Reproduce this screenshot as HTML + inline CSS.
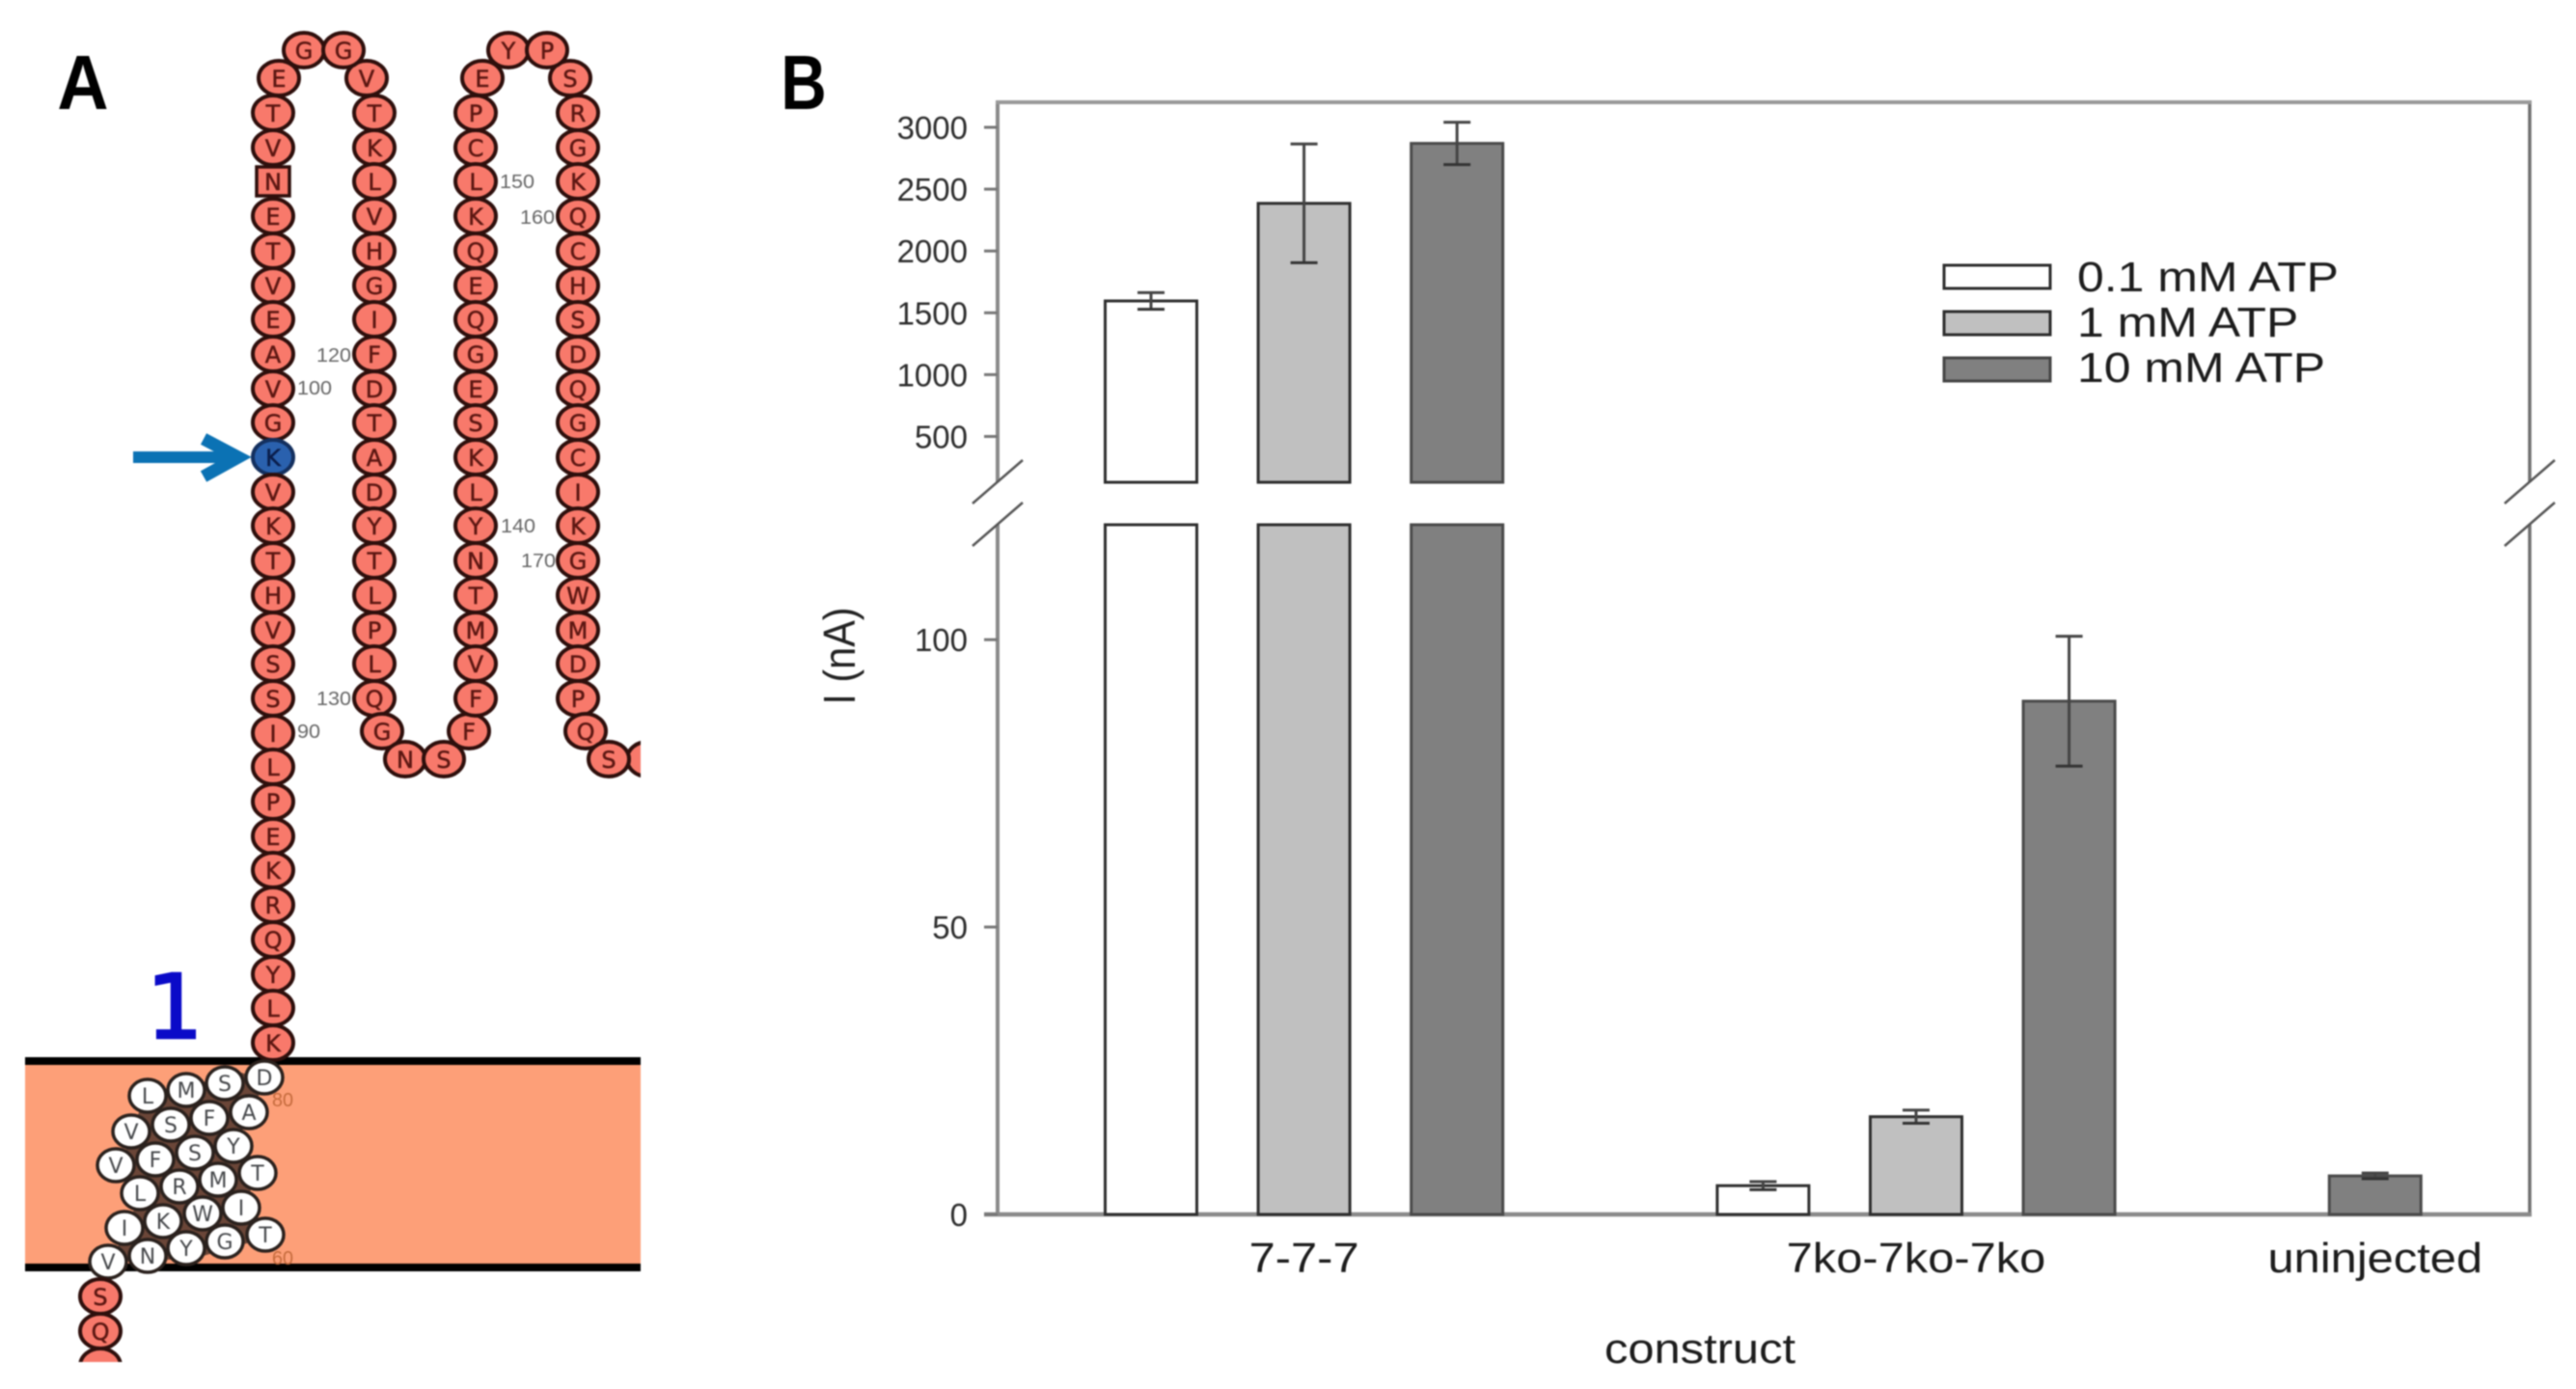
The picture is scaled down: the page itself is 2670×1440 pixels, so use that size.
<!DOCTYPE html>
<html lang="en">
<head>
<meta charset="utf-8">
<title>Panel A topology and Panel B ATP current chart</title>
<style>
html,body{margin:0;padding:0;background:#fff;width:2670px;height:1440px;overflow:hidden}
svg{display:block;filter:blur(0.9px)}
text{font-family:"Liberation Sans",sans-serif}
.r ellipse{rx:21px;ry:18px;fill:#f8796b;stroke:#2e0f0c;stroke-width:4px}
.r text{font-family:"DejaVu Sans",sans-serif;font-size:24px;fill:#5c1712;text-anchor:middle;transform:translateY(9px);stroke:#5c1712;stroke-width:.5px}
.r.k ellipse{fill:#2a61ae;stroke:#14305f}
.r.k text{fill:#0a1d4a;stroke:#0a1d4a}
.w ellipse{rx:19px;ry:17px;fill:#fff;stroke:#2a211d;stroke-width:3.5px}
.w text{font-family:"DejaVu Sans",sans-serif;font-size:22px;fill:#45474a;text-anchor:middle;transform:translateY(8px)}
.n{font-size:20px;fill:#666;text-anchor:middle}
.leg{font-size:44px;fill:#1c1c1c}
</style>
</head>
<body>
<svg id="fig" xmlns="http://www.w3.org/2000/svg" width="2670" height="1440" viewBox="0 0 2670 1440">
<defs>
<clipPath id="clipA"><rect x="0" y="0" width="664" height="1412"/></clipPath>
</defs>
<rect x="0" y="0" width="2670" height="1440" fill="#fff"/>

<g id="panelA" clip-path="url(#clipA)">
<text transform="translate(86,113) scale(0.92,1)" font-size="80" font-weight="bold" text-anchor="middle" fill="#000">A</text>
<text x="181" y="1076" font-size="92" text-anchor="middle" fill="#0a0ac8" stroke="#0a0ac8" stroke-width="2.5" style="font-family:'DejaVu Sans',sans-serif">1</text>

<rect x="26" y="1100" width="638" height="214" fill="#fd9f78"/>
<rect x="26" y="1096" width="638" height="8" fill="#000"/>
<rect x="26" y="1310" width="638" height="8" fill="#000"/>
<polygon points="250,1112 150,1136 125,1208 145,1240 130,1275 115,1308 200,1305 270,1285 255,1250 265,1215 245,1185 262,1150 275,1120" fill="#6b4638"/>

<g fill="none" stroke="#0b72b4" stroke-width="12">
<line x1="138" y1="474" x2="244" y2="474"/>
<polyline points="211,455 247,474 211,494" stroke-width="13"/>
</g>

<g>
<g class="r" transform="translate(283,117)"><ellipse/><text>T</text></g>
<g class="r" transform="translate(283,153)"><ellipse/><text>V</text></g>
<g class="r" transform="translate(283,188)"><rect x="-17" y="-15" width="34" height="30" fill="#f8796b" stroke="#2e0f0c" stroke-width="3.5"/><text>N</text></g>
<g class="r" transform="translate(283,224)"><ellipse/><text>E</text></g>
<g class="r" transform="translate(283,260)"><ellipse/><text>T</text></g>
<g class="r" transform="translate(283,296)"><ellipse/><text>V</text></g>
<g class="r" transform="translate(283,331)"><ellipse/><text>E</text></g>
<g class="r" transform="translate(283,367)"><ellipse/><text>A</text></g>
<g class="r" transform="translate(283,403)"><ellipse/><text>V</text></g>
<g class="r" transform="translate(283,438)"><ellipse/><text>G</text></g>
<g class="r k" transform="translate(283,474)"><ellipse/><text>K</text></g>
<g class="r" transform="translate(283,510)"><ellipse/><text>V</text></g>
<g class="r" transform="translate(283,545)"><ellipse/><text>K</text></g>
<g class="r" transform="translate(283,581)"><ellipse/><text>T</text></g>
<g class="r" transform="translate(283,617)"><ellipse/><text>H</text></g>
<g class="r" transform="translate(283,653)"><ellipse/><text>V</text></g>
<g class="r" transform="translate(283,688)"><ellipse/><text>S</text></g>
<g class="r" transform="translate(283,724)"><ellipse/><text>S</text></g>
<g class="r" transform="translate(283,760)"><ellipse/><text>I</text></g>
<g class="r" transform="translate(283,795)"><ellipse/><text>L</text></g>
<g class="r" transform="translate(283,831)"><ellipse/><text>P</text></g>
<g class="r" transform="translate(283,867)"><ellipse/><text>E</text></g>
<g class="r" transform="translate(283,902)"><ellipse/><text>K</text></g>
<g class="r" transform="translate(283,938)"><ellipse/><text>R</text></g>
<g class="r" transform="translate(283,974)"><ellipse/><text>Q</text></g>
<g class="r" transform="translate(283,1010)"><ellipse/><text>Y</text></g>
<g class="r" transform="translate(283,1045)"><ellipse/><text>L</text></g>
<g class="r" transform="translate(283,1081)"><ellipse/><text>K</text></g>
</g>

<g>
<g class="r" transform="translate(289,81)"><ellipse/><text>E</text></g>
<g class="r" transform="translate(380,81)"><ellipse/><text>V</text></g>
<g class="r" transform="translate(315,52)"><ellipse/><text>G</text></g>
<g class="r" transform="translate(356,52)"><ellipse/><text>G</text></g>
</g>

<g>
<g class="r" transform="translate(388,117)"><ellipse/><text>T</text></g>
<g class="r" transform="translate(388,153)"><ellipse/><text>K</text></g>
<g class="r" transform="translate(388,188)"><ellipse/><text>L</text></g>
<g class="r" transform="translate(388,224)"><ellipse/><text>V</text></g>
<g class="r" transform="translate(388,260)"><ellipse/><text>H</text></g>
<g class="r" transform="translate(388,296)"><ellipse/><text>G</text></g>
<g class="r" transform="translate(388,331)"><ellipse/><text>I</text></g>
<g class="r" transform="translate(388,367)"><ellipse/><text>F</text></g>
<g class="r" transform="translate(388,403)"><ellipse/><text>D</text></g>
<g class="r" transform="translate(388,438)"><ellipse/><text>T</text></g>
<g class="r" transform="translate(388,474)"><ellipse/><text>A</text></g>
<g class="r" transform="translate(388,510)"><ellipse/><text>D</text></g>
<g class="r" transform="translate(388,545)"><ellipse/><text>Y</text></g>
<g class="r" transform="translate(388,581)"><ellipse/><text>T</text></g>
<g class="r" transform="translate(388,617)"><ellipse/><text>L</text></g>
<g class="r" transform="translate(388,653)"><ellipse/><text>P</text></g>
<g class="r" transform="translate(388,688)"><ellipse/><text>L</text></g>
<g class="r" transform="translate(388,724)"><ellipse/><text>Q</text></g>
</g>

<g>
<g class="r" transform="translate(396,758)"><ellipse/><text>G</text></g>
<g class="r" transform="translate(486,758)"><ellipse/><text>F</text></g>
<g class="r" transform="translate(420,787)"><ellipse/><text>N</text></g>
<g class="r" transform="translate(460,787)"><ellipse/><text>S</text></g>
</g>

<g>
<g class="r" transform="translate(493,117)"><ellipse/><text>P</text></g>
<g class="r" transform="translate(493,153)"><ellipse/><text>C</text></g>
<g class="r" transform="translate(493,188)"><ellipse/><text>L</text></g>
<g class="r" transform="translate(493,224)"><ellipse/><text>K</text></g>
<g class="r" transform="translate(493,260)"><ellipse/><text>Q</text></g>
<g class="r" transform="translate(493,296)"><ellipse/><text>E</text></g>
<g class="r" transform="translate(493,331)"><ellipse/><text>Q</text></g>
<g class="r" transform="translate(493,367)"><ellipse/><text>G</text></g>
<g class="r" transform="translate(493,403)"><ellipse/><text>E</text></g>
<g class="r" transform="translate(493,438)"><ellipse/><text>S</text></g>
<g class="r" transform="translate(493,474)"><ellipse/><text>K</text></g>
<g class="r" transform="translate(493,510)"><ellipse/><text>L</text></g>
<g class="r" transform="translate(493,545)"><ellipse/><text>Y</text></g>
<g class="r" transform="translate(493,581)"><ellipse/><text>N</text></g>
<g class="r" transform="translate(493,617)"><ellipse/><text>T</text></g>
<g class="r" transform="translate(493,653)"><ellipse/><text>M</text></g>
<g class="r" transform="translate(493,688)"><ellipse/><text>V</text></g>
<g class="r" transform="translate(493,724)"><ellipse/><text>F</text></g>
</g>

<g>
<g class="r" transform="translate(500,81)"><ellipse/><text>E</text></g>
<g class="r" transform="translate(591,81)"><ellipse/><text>S</text></g>
<g class="r" transform="translate(527,52)"><ellipse/><text>Y</text></g>
<g class="r" transform="translate(567,52)"><ellipse/><text>P</text></g>
</g>

<g>
<g class="r" transform="translate(599,117)"><ellipse/><text>R</text></g>
<g class="r" transform="translate(599,153)"><ellipse/><text>G</text></g>
<g class="r" transform="translate(599,188)"><ellipse/><text>K</text></g>
<g class="r" transform="translate(599,224)"><ellipse/><text>Q</text></g>
<g class="r" transform="translate(599,260)"><ellipse/><text>C</text></g>
<g class="r" transform="translate(599,296)"><ellipse/><text>H</text></g>
<g class="r" transform="translate(599,331)"><ellipse/><text>S</text></g>
<g class="r" transform="translate(599,367)"><ellipse/><text>D</text></g>
<g class="r" transform="translate(599,403)"><ellipse/><text>Q</text></g>
<g class="r" transform="translate(599,438)"><ellipse/><text>G</text></g>
<g class="r" transform="translate(599,474)"><ellipse/><text>C</text></g>
<g class="r" transform="translate(599,510)"><ellipse/><text>I</text></g>
<g class="r" transform="translate(599,545)"><ellipse/><text>K</text></g>
<g class="r" transform="translate(599,581)"><ellipse/><text>G</text></g>
<g class="r" transform="translate(599,617)"><ellipse/><text>W</text></g>
<g class="r" transform="translate(599,653)"><ellipse/><text>M</text></g>
<g class="r" transform="translate(599,688)"><ellipse/><text>D</text></g>
<g class="r" transform="translate(599,724)"><ellipse/><text>P</text></g>
<g class="r" transform="translate(607,758)"><ellipse/><text>Q</text></g>
<g class="r" transform="translate(671,787)"><ellipse/></g>
<g class="r" transform="translate(631,787)"><ellipse/><text>S</text></g>
</g>

<g>
<text class="n" x="536" y="195" textLength="36" lengthAdjust="spacingAndGlyphs">150</text>
<text class="n" x="557" y="232" textLength="36" lengthAdjust="spacingAndGlyphs">160</text>
<text class="n" x="346" y="375" textLength="36" lengthAdjust="spacingAndGlyphs">120</text>
<text class="n" x="326" y="409" textLength="36" lengthAdjust="spacingAndGlyphs">100</text>
<text class="n" x="537" y="552" textLength="36" lengthAdjust="spacingAndGlyphs">140</text>
<text class="n" x="558" y="588" textLength="36" lengthAdjust="spacingAndGlyphs">170</text>
<text class="n" x="346" y="731" textLength="36" lengthAdjust="spacingAndGlyphs">130</text>
<text class="n" x="320" y="765" textLength="24" lengthAdjust="spacingAndGlyphs">90</text>
<text class="n" x="293" y="1147" style="fill:#c46a3c" textLength="22" lengthAdjust="spacingAndGlyphs">80</text>
<text class="n" x="293" y="1311" style="fill:#c46a3c" textLength="22" lengthAdjust="spacingAndGlyphs">60</text>
</g>

<g>
<g class="w" transform="translate(153,1136)"><ellipse/><text>L</text></g>
<g class="w" transform="translate(193,1130)"><ellipse/><text>M</text></g>
<g class="w" transform="translate(233,1123)"><ellipse/><text>S</text></g>
<g class="w" transform="translate(274,1117)"><ellipse/><text>D</text></g>
<g class="w" transform="translate(136,1173)"><ellipse/><text>V</text></g>
<g class="w" transform="translate(177,1166)"><ellipse/><text>S</text></g>
<g class="w" transform="translate(217,1159)"><ellipse/><text>F</text></g>
<g class="w" transform="translate(258,1153)"><ellipse/><text>A</text></g>
<g class="w" transform="translate(120,1208)"><ellipse/><text>V</text></g>
<g class="w" transform="translate(161,1202)"><ellipse/><text>F</text></g>
<g class="w" transform="translate(202,1195)"><ellipse/><text>S</text></g>
<g class="w" transform="translate(242,1188)"><ellipse/><text>Y</text></g>
<g class="w" transform="translate(145,1237)"><ellipse/><text>L</text></g>
<g class="w" transform="translate(186,1230)"><ellipse/><text>R</text></g>
<g class="w" transform="translate(226,1223)"><ellipse/><text>M</text></g>
<g class="w" transform="translate(267,1216)"><ellipse/><text>T</text></g>
<g class="w" transform="translate(129,1273)"><ellipse/><text>I</text></g>
<g class="w" transform="translate(169,1266)"><ellipse/><text>K</text></g>
<g class="w" transform="translate(210,1258)"><ellipse/><text>W</text></g>
<g class="w" transform="translate(250,1252)"><ellipse/><text>I</text></g>
<g class="w" transform="translate(153,1302)"><ellipse/><text>N</text></g>
<g class="w" transform="translate(193,1294)"><ellipse/><text>Y</text></g>
<g class="w" transform="translate(233,1287)"><ellipse/><text>G</text></g>
<g class="w" transform="translate(275,1280)"><ellipse/><text>T</text></g>
<g class="w" transform="translate(112,1308)"><ellipse/><text>V</text></g>
</g>

<g>
<g class="r" transform="translate(104,1416)"><ellipse/></g>
<g class="r" transform="translate(104,1344)"><ellipse/><text>S</text></g>
<g class="r" transform="translate(104,1380)"><ellipse/><text>Q</text></g>
</g>
</g>

<g id="panelB">
<text transform="translate(833,113) scale(0.82,1)" font-size="80" font-weight="bold" text-anchor="middle" fill="#000">B</text>
<g id="axes"></g>
<g id="bars"></g>
<g id="errors"></g>
<g id="ticks"></g>
<text transform="translate(886,680) rotate(-90) scale(0.9,1)" font-size="46" text-anchor="middle" fill="#222">I (nA)</text>
<text transform="translate(1762,1413) scale(1.11,1)" font-size="44" text-anchor="middle" fill="#1c1c1c">construct</text>

<g>
<g>
<rect x="2015" y="275" width="110" height="24" fill="#fff" stroke="#2c2c2c" stroke-width="3"/>
<text class="leg" transform="translate(2153,302) scale(1.135,1)">0.1 mM ATP</text>
</g>
<g>
<rect x="2015" y="323" width="110" height="24" fill="#c0c0c0" stroke="#2c2c2c" stroke-width="3"/>
<text class="leg" transform="translate(2153,349) scale(1.135,1)">1 mM ATP</text>
</g>
<g>
<rect x="2015" y="371" width="110" height="24" fill="#808080" stroke="#444" stroke-width="3"/>
<text class="leg" transform="translate(2153,396) scale(1.135,1)">10 mM ATP</text>
</g>
</g>
</g>
</svg>

<script>
// Chart values (nA). null means no bar in that group.
const categories = ['7-7-7', '7ko-7ko-7ko', 'uninjected'];
const seriesNames = ['0.1 mM ATP', '1 mM ATP', '10 mM ATP'];
const values01 = [1596, 5.0, null];
const values1 = [2385, 17, null];
const values10 = [2870, 89.3, 6.7];
const errors01 = [67, 0.7, null];
const errors1 = [480, 1.15, null];
const errors10 = [171, 11.3, 0.5];
const lowerTicks = [0, 50, 100];
const upperTicks = [500, 1000, 1500, 2000, 2500, 3000];

const seriesValues = [values01, values1, values10];
const seriesErrors = [errors01, errors1, errors10];
const seriesFill = ['#ffffff', '#c0c0c0', '#808080'];
const NS = 'http://www.w3.org/2000/svg';

// Broken axis geometry
const plotLeft = 1034, plotRight = 2622, plotTop = 106;
const lowerBase = 1259, lowerTop = 544, upperBase = 500;
const lowerMax = 120, upperMin = 129;
const yLow = v => lowerBase - (v / lowerMax) * (lowerBase - lowerTop);
const yHigh = v => 132 + (3000 - v) * 0.1282;
const yAny = v => v > lowerMax ? yHigh(v) : yLow(v);

// Band layout: bars sit side by side, with one empty slot between groups.
const firstBar = 1193, step = 158.6, barWidth = 95;

function shape(tag, attrs) {
  const el = document.createElementNS(NS, tag);
  for (const k in attrs) el.setAttribute(k, attrs[k]);
  return el;
}

const axes = document.getElementById('axes');
const barsG = document.getElementById('bars');
const errG = document.getElementById('errors');
const ticksG = document.getElementById('ticks');

// Axes frame
const leftUpper = shape('line', {x1: plotLeft, y1: plotTop, x2: plotLeft, y2: upperBase, stroke: '#8a8a8a', 'stroke-width': 4});


axes.appendChild(leftUpper);
const leftLower = shape('line', {x1: plotLeft, y1: lowerTop, x2: plotLeft, y2: lowerBase, stroke: '#8a8a8a', 'stroke-width': 4});


axes.appendChild(leftLower);
const rightUpper = shape('line', {x1: plotRight, y1: plotTop, x2: plotRight, y2: upperBase, stroke: '#707070', 'stroke-width': 3.5});


axes.appendChild(rightUpper);
const rightLower = shape('line', {x1: plotRight, y1: lowerTop, x2: plotRight, y2: lowerBase, stroke: '#707070', 'stroke-width': 3.5});


axes.appendChild(rightLower);
const topAxis = shape('line', {x1: plotLeft - 2, y1: plotTop, x2: plotRight + 2, y2: plotTop, stroke: '#999', 'stroke-width': 4});


axes.appendChild(topAxis);
const bottomAxis = shape('line', {x1: 1020, y1: lowerBase, x2: plotRight + 2, y2: lowerBase, stroke: '#8a8a8a', 'stroke-width': 4.5});


axes.appendChild(bottomAxis);

// Axis-break marks on both sides
[plotLeft, plotRight].forEach(function (ax) {
  [522, 566].forEach(function (yStart) {
    const mark = shape('line', {x1: ax - 26, y1: yStart, x2: ax + 26, y2: yStart - 45, stroke: '#555', 'stroke-width': 2.5});
    
    
    axes.appendChild(mark);
  });
});

// Y ticks
function drawTick(v, scale) {
  const y = scale(v);
  const tick = shape('line', {x1: 1020, y1: y, x2: plotLeft, y2: y, stroke: '#777', 'stroke-width': 3});
  
  
  ticksG.appendChild(tick);
  const label = shape('text', {x: 1003, y: y + 12, 'text-anchor': 'end', 'font-size': 33, fill: '#2c2c2c'});
  
  
  label.textContent = String(v);
  ticksG.appendChild(label);
}
lowerTicks.forEach(v => drawTick(v, yLow));
upperTicks.forEach(v => drawTick(v, yHigh));

// Bars, error bars, category labels
let cursor = 0;
categories.forEach(function (cat, c) {
  const present = seriesValues.map((vals, s) => vals[c] === null ? -1 : s).filter(s => s >= 0);
  const startSlot = cursor;
  present.forEach(function (s, i) {
    const v = seriesValues[s][c];
    const err = seriesErrors[s][c];
    const cx = firstBar + (startSlot + i) * step;
    const fill = seriesFill[s];
    const stroke = s === 2 ? '#4a4a4a' : '#2e2e2e';
    const lowTop = yLow(Math.min(v, lowerMax));
    const lowerBar = shape('rect', {x: cx - barWidth / 2, y: lowTop, width: barWidth, height: lowerBase - lowTop, fill: fill, stroke: stroke, 'stroke-width': 3});
    
    
    barsG.appendChild(lowerBar);
    if (v > lowerMax) {
      const upTop = yHigh(v);
      const upperBar = shape('rect', {x: cx - barWidth / 2, y: upTop, width: barWidth, height: upperBase - upTop, fill: fill, stroke: stroke, 'stroke-width': 3});
      
      
      barsG.appendChild(upperBar);
    }
    const hi = yAny(v + err), lo = yAny(v - err);
    const whisker = shape('line', {x1: cx, y1: hi, x2: cx, y2: lo, stroke: '#444', 'stroke-width': 3});
    
    
    errG.appendChild(whisker);
    const capTop = shape('line', {x1: cx - 14, y1: hi, x2: cx + 14, y2: hi, stroke: '#444', 'stroke-width': 3});
    
    
    errG.appendChild(capTop);
    const capBottom = shape('line', {x1: cx - 14, y1: lo, x2: cx + 14, y2: lo, stroke: '#333', 'stroke-width': 3});
    
    
    errG.appendChild(capBottom);
  });
  const center = firstBar + (startSlot + (present.length - 1) / 2) * step;
  const catLabel = shape('text', {transform: 'translate(' + center + ',1319) scale(1.11,1)', 'text-anchor': 'middle', 'font-size': 44, fill: '#1c1c1c'});
  
  
  catLabel.textContent = cat;
  ticksG.appendChild(catLabel);
  cursor += present.length + 1;
});
</script>
</body>
</html>
